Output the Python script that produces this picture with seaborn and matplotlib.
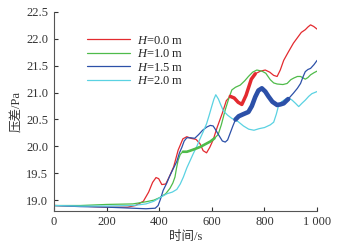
import numpy as np
import pandas as pd
import matplotlib
matplotlib.use('Agg')
import matplotlib.pyplot as plt
import seaborn as sns

# Pressure difference curves
t_h00 = [0, 100, 200, 280, 310, 340, 360, 375, 388, 398, 410, 425, 440, 455, 472, 490,
         505, 520, 540, 555, 567, 580, 592, 605, 620, 640, 655, 670, 685, 700, 714, 730,
         750, 765, 785, 803, 820, 835, 848, 860, 873, 890, 910, 925, 940, 955, 965, 975,
         987, 1000]
p_h00 = [18.90, 18.89, 18.87, 18.87, 18.90, 18.98, 19.15, 19.33, 19.42, 19.40, 19.29, 19.30,
         19.45, 19.62, 19.93, 20.14, 20.18, 20.15, 20.13, 20.05, 19.92, 19.88, 19.98, 20.12,
         20.35, 20.62, 20.85, 20.93, 20.90, 20.82, 20.78, 20.95, 21.25, 21.35, 21.40, 21.42,
         21.38, 21.32, 21.30, 21.42, 21.60, 21.75, 21.92, 22.02, 22.12, 22.17, 22.22, 22.26,
         22.23, 22.18]

t_h10 = [0, 100, 200, 300, 350, 380, 403, 425, 441, 452, 460, 466, 472, 480, 490, 505,
         518, 535, 556, 575, 594, 610, 624, 636, 651, 665, 676, 690, 708, 725, 739, 755,
         771, 790, 805, 822, 835, 848, 870, 886, 900, 911, 925, 937, 955, 965, 975, 988, 1000]
p_h10 = [18.90, 18.90, 18.92, 18.93, 18.97, 19.00, 19.05, 19.12, 19.22, 19.32, 19.43, 19.60,
         19.74, 19.85, 19.90, 19.90, 19.92, 19.95, 19.99, 20.04, 20.09, 20.15, 20.22, 20.40,
         20.68, 20.90, 21.05, 21.10, 21.14, 21.22, 21.30, 21.38, 21.42, 21.40, 21.36, 21.24,
         21.18, 21.16, 21.15, 21.17, 21.24, 21.27, 21.30, 21.30, 21.25, 21.28, 21.33, 21.37,
         21.40]

t_h15 = [0, 100, 200, 300, 350, 385, 396, 405, 415, 429, 440, 453, 467, 477, 486, 495,
         505, 520, 535, 550, 565, 581, 594, 605, 613, 625, 640, 651, 660, 670, 680, 690,
         702, 720, 739, 752, 765, 777, 790, 803, 815, 830, 848, 860, 873, 890, 910, 925,
         937, 947, 955, 965, 975, 988, 1000]
p_h15 = [18.90, 18.88, 18.87, 18.85, 18.84, 18.85, 18.90, 19.02, 19.18, 19.32, 19.45, 19.58,
         19.72, 19.88, 19.98, 20.10, 20.16, 20.16, 20.15, 20.22, 20.30, 20.36, 20.39, 20.38,
         20.32, 20.22, 20.10, 20.08, 20.12, 20.25, 20.38, 20.50, 20.56, 20.60, 20.64, 20.75,
         20.92, 21.04, 21.08, 21.02, 20.93, 20.83, 20.77, 20.78, 20.80, 20.88, 20.99, 21.08,
         21.17, 21.30, 21.39, 21.43, 21.45, 21.52, 21.60]

t_h20 = [0, 100, 200, 300, 350, 380, 404, 430, 450, 467, 480, 492, 505, 518, 530, 543,
         555, 567, 580, 590, 600, 608, 615, 625, 635, 644, 660, 676, 700, 720, 740, 760,
         780, 800, 822, 835, 845, 853, 865, 880, 892, 905, 918, 930, 942, 955, 968, 980, 1000]
p_h20 = [18.90, 18.89, 18.89, 18.90, 18.93, 18.98, 19.05, 19.12, 19.15, 19.20, 19.30, 19.43,
         19.60, 19.74, 19.87, 20.00, 20.14, 20.27, 20.42, 20.58, 20.75, 20.88, 20.96, 20.88,
         20.76, 20.66, 20.58, 20.52, 20.46, 20.38, 20.32, 20.30, 20.33, 20.35, 20.40, 20.45,
         20.60, 20.75, 20.83, 20.88, 20.90, 20.86, 20.80, 20.74, 20.80, 20.86, 20.93, 20.98,
         21.02]

labels = ['$H$=0.0 m', '$H$=1.0 m', '$H$=1.5 m', '$H$=2.0 m']
y_ticks = [19.0, 19.5, 20.0, 20.5, 21.0, 21.5, 22.0, 22.5]
x_ticks = [0, 200, 400, 600, 800, 1000]
x_tick_labels = ['0', '200', '400', '600', '800', '1 000']

colors = ['#e32a2f', '#4fbb4a', '#2c50a8', '#5ad2e2']
# time ranges where the curve oscillates quickly and looks like a thick band
thick = [(665, 775, 2.5), (490, 620, 1.9), (685, 905, 3.3), None]

sns.set_style('ticks')
plt.rcParams['font.family'] = ['Liberation Serif', 'Noto Sans CJK SC']
plt.rcParams['mathtext.fontset'] = 'custom'
plt.rcParams['mathtext.it'] = 'Liberation Serif:italic'
plt.rcParams['mathtext.rm'] = 'Liberation Serif'

series = [(t_h00, p_h00), (t_h10, p_h10), (t_h15, p_h15), (t_h20, p_h20)]
frames = []
for (t, p), lab in zip(series, labels):
    frames.append(pd.DataFrame({'t': t, 'p': p, 'case': lab}))
df = pd.concat(frames, ignore_index=True)

fig = plt.figure(figsize=(3.41, 2.49), dpi=100)
ax = fig.add_axes([0.158, 0.153, 0.772, 0.799])

sns.lineplot(data=df, x='t', y='p', hue='case', hue_order=labels, palette=colors,
             linewidth=0.9, ax=ax)

# thick oscillating parts
for lab, col, th in zip(labels, colors, thick):
    if th is None:
        continue
    sub = df[(df['case'] == lab) & (df['t'] >= th[0]) & (df['t'] <= th[1])]
    sns.lineplot(data=sub, x='t', y='p', color=col, linewidth=th[2], legend=False, ax=ax)

ax.set_xlim(0, 1000)
ax.set_ylim(18.8, 22.5)
ax.set_xticks(x_ticks)
ax.set_xticklabels(x_tick_labels)
ax.set_yticks(y_ticks)
ax.set_yticklabels(['%.1f' % v for v in y_ticks])
ax.tick_params(direction='in', length=3, width=0.8, labelsize=9, colors='#333333', pad=4)
ax.set_xlabel('时间/s', fontsize=9, color='#333333', labelpad=2)
ax.set_ylabel('压差/Pa', fontsize=9, color='#333333', labelpad=3)
for s in ['top', 'right']:
    ax.spines[s].set_visible(False)
for s in ['left', 'bottom']:
    ax.spines[s].set_color('#555555')
    ax.spines[s].set_linewidth(0.8)

leg = ax.legend(loc='upper left', bbox_to_anchor=(0.105, 0.91), frameon=False, fontsize=9,
                handlelength=3.5, handletextpad=0.5, labelspacing=0.12, borderaxespad=0)
for line in leg.get_lines():
    line.set_linewidth(0.9)

fig.savefig('out.png', dpi=100)
